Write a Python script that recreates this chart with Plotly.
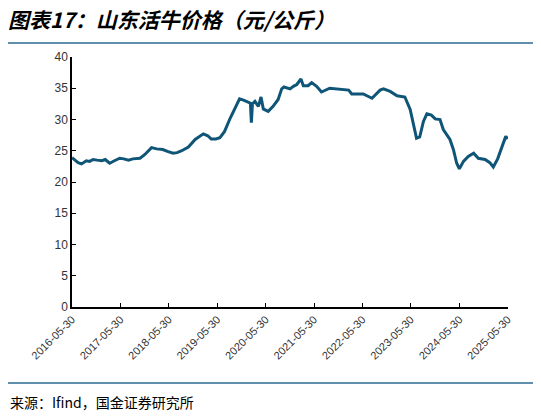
import plotly.graph_objects as go

# 山东活牛价格（元/公斤）
dates = [
    "2016-05-30", "2016-06-20", "2016-07-15", "2016-08-10", "2016-09-15", "2016-10-10",
    "2016-11-05", "2016-12-05", "2017-01-10", "2017-02-05", "2017-03-10", "2017-04-15",
    "2017-05-25", "2017-06-25", "2017-07-30", "2017-09-01", "2017-10-25", "2017-12-01",
    "2018-01-20", "2018-02-28", "2018-04-15", "2018-05-20", "2018-07-01", "2018-08-01",
    "2018-09-05", "2018-10-25", "2018-12-15", "2019-02-15", "2019-03-20", "2019-04-15",
    "2019-05-20", "2019-06-20", "2019-07-25", "2019-09-05", "2019-09-30", "2019-10-25",
    "2019-11-15", "2019-12-15", "2020-01-05", "2020-02-05", "2020-02-12", "2020-02-20",
    "2020-03-10", "2020-04-05", "2020-04-25", "2020-05-12", "2020-06-18", "2020-07-25",
    "2020-09-01", "2020-09-28", "2020-10-15", "2020-11-10", "2020-11-30", "2020-12-25",
    "2021-01-20", "2021-02-20", "2021-03-10", "2021-04-15", "2021-05-12", "2021-06-18",
    "2021-07-25", "2021-09-25", "2021-11-30", "2022-02-15", "2022-03-10", "2022-06-05",
    "2022-08-10", "2022-10-10", "2022-11-05", "2022-12-25", "2023-02-15", "2023-04-15",
    "2023-05-25", "2023-06-18", "2023-07-12", "2023-08-05", "2023-09-02", "2023-09-28",
    "2023-11-01", "2023-11-30", "2024-01-05", "2024-01-30", "2024-03-20", "2024-04-15",
    "2024-05-10", "2024-05-30", "2024-06-30", "2024-08-05", "2024-09-15", "2024-10-20",
    "2024-12-10", "2025-01-15", "2025-02-10", "2025-03-15", "2025-04-20", "2025-05-15",
    "2025-05-30",
]
prices = [
    23.9, 23.5, 23.1, 22.9, 23.4, 23.3,
    23.6, 23.5, 23.4, 23.6, 23.0, 23.4,
    23.8, 23.7, 23.5, 23.7, 23.8, 24.4,
    25.5, 25.3, 25.2, 24.9, 24.6, 24.7,
    25.0, 25.6, 26.8, 27.7, 27.4, 26.9,
    26.9, 27.1, 28.1, 30.2, 31.3, 32.5,
    33.3, 33.1, 32.9, 32.6, 29.5, 32.5,
    32.9, 32.1, 33.6, 31.7, 31.3, 32.1,
    33.2, 34.9, 35.2, 35.0, 34.9, 35.3,
    35.6, 36.5, 35.4, 35.4, 35.9, 35.3,
    34.4, 35.0, 34.9, 34.7, 34.1, 34.1,
    33.4, 34.7, 34.9, 34.5, 33.8, 33.6,
    31.6, 29.4, 27.0, 27.2, 29.7, 30.9,
    30.7, 30.1, 30.0, 28.4, 26.8, 25.2,
    23.0, 22.1, 23.3, 24.1, 24.6, 23.8,
    23.6, 23.1, 22.4, 23.7, 26.0, 27.3,
    26.9,
]
tick_dates = [f"{y}-05-30" for y in range(2016, 2026)]
y_ticks = [0, 5, 10, 15, 20, 25, 30, 35, 40]

fig = go.Figure()
fig.add_trace(go.Scatter(
    x=dates, y=prices, mode="lines",
    line=dict(color="#0f5577", width=3),
    showlegend=False,
))

fig.update_xaxes(
    type="date", range=["2016-05-30", "2025-06-01"],
    tickvals=tick_dates, ticktext=tick_dates, tickangle=-45,
    showline=True, linecolor="black", linewidth=1.5,
    ticks="inside", ticklen=4, tickcolor="black",
    showgrid=False, zeroline=False,
    tickfont=dict(family="Liberation Sans", size=11, color="#333333"),
)
fig.update_yaxes(
    range=[0, 40], tickvals=y_ticks,
    showline=True, linecolor="black", linewidth=1.5,
    ticks="inside", ticklen=4, tickcolor="black",
    showgrid=False, zeroline=False,
    tickfont=dict(family="Liberation Sans", size=12, color="#333333"),
)

# 页面自带 8px 边距，整体尺寸相应缩小
fig.update_layout(
    width=533, height=408,
    margin=dict(l=64, r=33, t=49, b=109),
    plot_bgcolor="white", paper_bgcolor="white",
    title=dict(
        text="<b><i>图表17：山东活牛价格（元/公斤）</i></b>",
        x=0.0, xanchor="left", y=0.968, yanchor="middle",
        font=dict(family="Noto Sans CJK SC", size=21, color="black"),
    ),
    shapes=[
        dict(type="line", xref="paper", yref="paper",
             x0=-0.147, x1=1.076, y0=1.056, y1=1.056,
             line=dict(color="#2a6a92", width=1.5)),
        dict(type="line", xref="paper", yref="paper",
             x0=-0.147, x1=1.076, y0=-0.304, y1=-0.304,
             line=dict(color="#2a6a92", width=1.5)),
    ],
    annotations=[
        dict(text="来源：Ifind，国金证券研究所", xref="paper", yref="paper",
             x=-0.147, y=-0.38, xanchor="left", yanchor="middle", showarrow=False,
             font=dict(family="Noto Sans CJK SC", size=14, color="black")),
    ],
)

fig.write_html("out.html")
